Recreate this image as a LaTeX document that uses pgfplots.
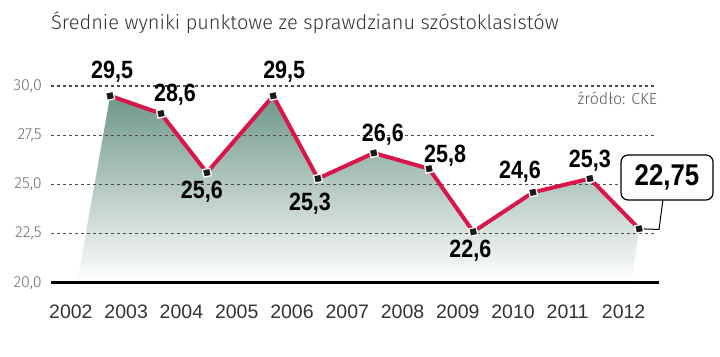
\documentclass[border=0pt]{standalone}
\usepackage{pgfplots}
\pgfplotsset{compat=1.18}
\usepackage{fontspec}
\setmainfont{Liberation Sans}
\newfontfamily\valfont[FakeStretch=0.86]{Liberation Sans}
\newfontfamily\lightfont{Fira Sans Light}
\definecolor{linered}{HTML}{D9164A}
\definecolor{areatop}{HTML}{6F978A}
\definecolor{gridc}{HTML}{4A4A4A}
\definecolor{titlec}{HTML}{333333}
\definecolor{tickc}{HTML}{6E6E6E}
\newcommand{\vf}{\valfont\bfseries\fontsize{25}{25}\selectfont}
\begin{document}
\begin{tikzpicture}
\path[use as bounding box] (0,0) rectangle (720pt,356pt);
\node[anchor=base west, inner sep=0pt, font=\lightfont\fontsize{20}{24}\selectfont, text=titlec] at (51pt,326pt) {Średnie wyniki punktowe ze sprawdzianu szóstoklasistów};
\begin{axis}[
  at={(51pt,73pt)}, anchor=south west,
  scale only axis, width=608pt, height=197pt,
  xmin=2002, xmax=2013, ymin=20, ymax=30,
  clip=false,
  axis x line*=bottom, axis y line*=left,
  x axis line style={draw=none},
  y axis line style={draw=none},
  xtick={2002,2003,2004,2005,2006,2007,2008,2009,2010,2011,2012},
  xticklabels={2002,2003,2004,2005,2006,2007,2008,2009,2010,2011,2012},
  major tick length=0pt,
  xtick style={draw=none},
  xticklabel style={anchor=north west, inner sep=0pt, xshift=-2pt, yshift=-22pt, font=\fontsize{19.5}{20}\selectfont, text=titlec},
  extra x ticks={2003,2004,2005,2006,2007,2008,2009,2010,2011,2012},
  extra x tick labels={},
  extra x tick style={major tick length=7pt, tick align=outside, tick style={draw=black, line width=1pt}},
  ytick={20,22.5,25,27.5,30},
  yticklabels={{20,0},{22,5},{25,0},{27,5},{30,0}},
  ytick style={draw=none},
  yticklabel style={anchor=east, inner sep=0pt, xshift=-9pt, font=\lightfont\fontsize{16}{16}\selectfont, text=tickc},
]
% area
\addplot[draw=none, top color=areatop, bottom color=white, forget plot] coordinates {
  (2002.47,20) (2003.07,29.5) (2003.99,28.6) (2004.82,25.6) (2006.02,29.5) (2006.83,25.3)
  (2007.84,26.6) (2008.84,25.8) (2009.64,22.6) (2010.72,24.6) (2011.75,25.3) (2012.64,22.75) (2012.5,20)};
% grid lines
\addplot[gridc, line width=1.1pt, dash pattern=on 3pt off 3pt, forget plot] coordinates {(2002,30) (2012.96,30)};
\addplot[gridc, line width=1.1pt, dash pattern=on 3pt off 3pt, forget plot] coordinates {(2002,27.5) (2012.96,27.5)};
\addplot[gridc, line width=1.1pt, dash pattern=on 3pt off 3pt, forget plot] coordinates {(2002,25) (2012.96,25)};
\addplot[gridc, line width=1.1pt, dash pattern=on 3pt off 3pt, forget plot] coordinates {(2002,22.5) (2012.96,22.5)};
% x axis line
\addplot[black, line width=3pt, forget plot] coordinates {(2002,20) (2013,20)};
% connector
\draw[line width=1pt, black] (axis cs:2012.64,22.75) -- (axis cs:2013.0,22.72) -- (axis cs:2013.07,24.21);
% data line
\addplot[linered, line width=4pt, line join=round, mark=square*, mark size=3.8pt,
  mark options={fill=black!90, draw=white, line width=1.3pt, rotate=12, solid}] coordinates {
  (2003.07,29.5) (2003.99,28.6) (2004.82,25.6) (2006.02,29.5) (2006.83,25.3)
  (2007.84,26.6) (2008.84,25.8) (2009.64,22.6) (2010.72,24.6) (2011.75,25.3) (2012.64,22.75)};
% value labels
\node[font=\vf, inner sep=0pt, xshift=2pt, yshift=24pt] at (axis cs:2003.07,29.5) {29,5};
\node[font=\vf, inner sep=0pt, xshift=14pt, yshift=19pt] at (axis cs:2003.99,28.6) {28,6};
\node[font=\vf, inner sep=0pt, xshift=-5pt, yshift=-19pt] at (axis cs:2004.82,25.6) {25,6};
\node[font=\vf, inner sep=0pt, xshift=11pt, yshift=24pt] at (axis cs:2006.02,29.5) {29,5};
\node[font=\vf, inner sep=0pt, xshift=-8pt, yshift=-25pt] at (axis cs:2006.83,25.3) {25,3};
\node[font=\vf, inner sep=0pt, xshift=9pt, yshift=18pt] at (axis cs:2007.84,26.6) {26,6};
\node[font=\vf, inner sep=0pt, xshift=16pt, yshift=13pt] at (axis cs:2008.84,25.8) {25,8};
\node[font=\vf, inner sep=0pt, xshift=-3pt, yshift=-19pt] at (axis cs:2009.64,22.6) {22,6};
\node[font=\vf, inner sep=0pt, xshift=-13pt, yshift=21pt] at (axis cs:2010.72,24.6) {24,6};
\node[font=\vf, inner sep=0pt, xshift=0pt, yshift=18pt] at (axis cs:2011.75,25.3) {25,3};
% highlighted box
\node[draw=black, line width=1.2pt, rounded corners=7pt, fill=white, minimum width=92pt, minimum height=45pt, inner sep=0pt,
  font=\valfont\bfseries\fontsize{30}{30}\selectfont] at (axis cs:2013.145,25.355) {22,75};
% source
\node[anchor=east, inner sep=0pt, font=\lightfont\fontsize{16}{16}\selectfont, text=black!65] at (axis cs:2012.97,29.39) {źródło: CKE};
\end{axis}
\end{tikzpicture}
\end{document}
